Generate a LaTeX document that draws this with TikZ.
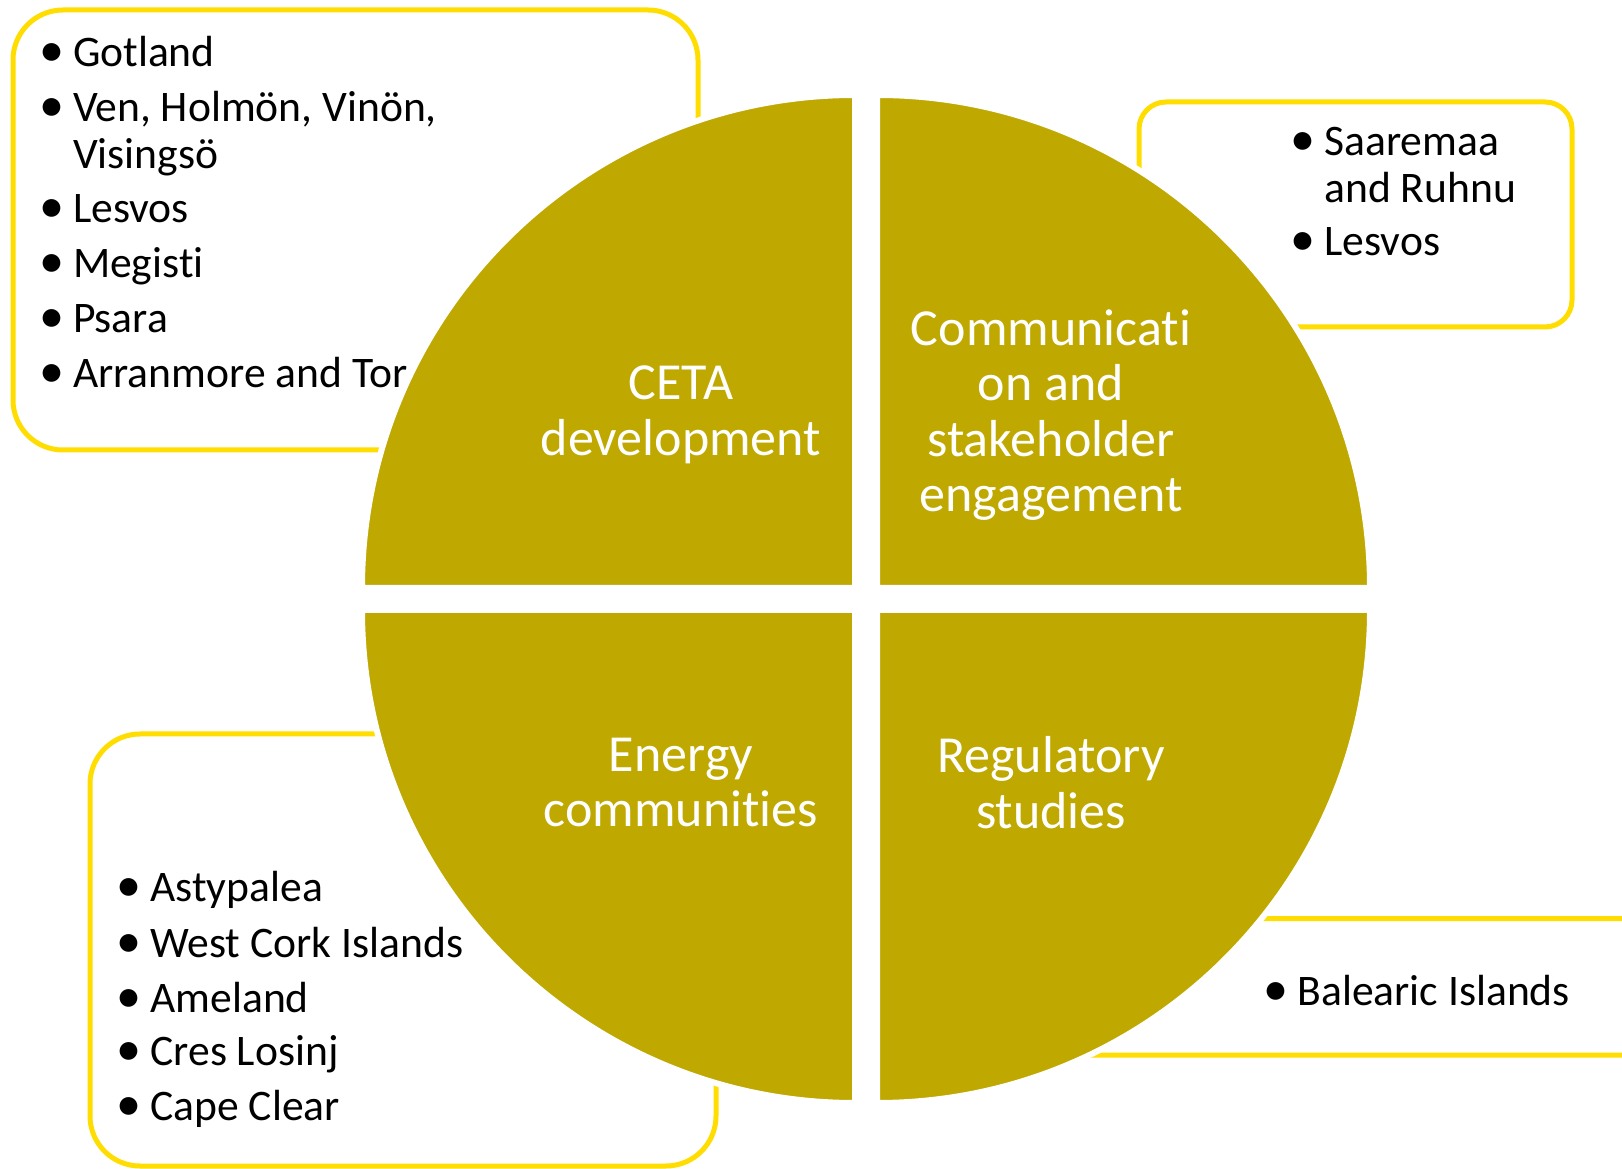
\documentclass[tikz,border=0pt]{standalone}
\usepackage{fontspec}
\setmainfont{Carlito}[Ligatures=NoCommon]
\usetikzlibrary{calc}
\definecolor{ceta}{RGB}{191,168,0}
\definecolor{frame}{RGB}{255,221,0}
\newcommand{\bul}{\makebox[12pt][l]{\hspace{-5pt}\scalebox{1.15}{\textbullet}}}
\newcommand{\gap}{\hspace*{12pt}}
\tikzset{
  listbox/.style={draw=frame,line width=2.5pt,rounded corners=#1},
  quarter/.style={fill=ceta,draw=white,line width=3pt},
  item/.style={anchor=base west,inner sep=0pt,font=\fontsize{21.8}{23.5}\selectfont},
  quadlabel/.style={align=center,text=white,inner sep=0pt,font=\fontsize{26}{27.75}\selectfont}
}

\begin{document}
\begin{tikzpicture}[x=0.5pt,y=0.5pt]
        \useasboundingbox (0,0) rectangle (1622,1168);
        \clip (0,0) rectangle (1622,1168);
        % boxes behind the circle
        \draw[listbox=25pt] (13,718) rectangle (698,1158);
        \draw[listbox=13.5pt] (1139,841) rectangle (1572,1066);
        \draw[listbox=25pt] (90,2) rectangle (716,434);
        \draw[listbox=13.5pt] (1000,113) rectangle (1700,249.5);
        % island lists
        \node[item] (gotland) at (48.6,1101) {\bul Gotland};
        \node[item] (ven) at (48.6,1046) {\bul Ven, Holmön, Vinön,};
        \node[item] (visingso) at (48.6,999) {\gap Visingsö};
        \node[item] (lesvosA) at (48.6,945) {\bul Lesvos};
        \node[item] (megisti) at (48.6,890) {\bul Megisti};
        \node[item] (psara) at (48.6,835) {\bul Psara};
        \node[item] (arranmore) at (48.6,780) {\bul Arranmore and Tor};
        \node[item] (saaremaa) at (1300,1012) {\bul Saaremaa};
        \node[item] (ruhnu) at (1300,965) {\gap and Ruhnu};
        \node[item] (lesvosB) at (1300,912) {\bul Lesvos};
        \node[item] (astypalea) at (126,266) {\bul Astypalea};
        \node[item] (westcork) at (126,211) {\bul West Cork Islands};
        \node[item] (ameland) at (126,156) {\bul Ameland};
        \node[item] (cres) at (126,102.5) {\bul Cres Losinj};
        \node[item] (cape) at (126,48) {\bul Cape Clear};
        \node[item] (balearic) at (1273,162.5) {\bul Balearic Islands};
        % the four quarters
        \draw[quarter] (855,580) -- ++(-493,0) arc[start angle=180,end angle=90,radius=493] -- cycle;
        \draw[quarter] (877,580) -- ++(493,0) arc[start angle=0,end angle=90,radius=493] -- cycle;
        \draw[quarter] (855,558) -- ++(-493,0) arc[start angle=180,end angle=270,radius=493] -- cycle;
        \draw[quarter] (877,558) -- ++(493,0) arc[start angle=0,end angle=-90,radius=493] -- cycle;
        \node[quadlabel] (ceta) at (681,753) {CETA\\development};
        \node[quadlabel] (comm) at (1051,753) {Communicati\\on and\\stakeholder\\engagement};
        \node[quadlabel] (energy) at (681,385.5) {Energy\\communities};
        \node[quadlabel] (regul) at (1051,385.5) {Regulatory\\studies};
\end{tikzpicture}
\end{document}
